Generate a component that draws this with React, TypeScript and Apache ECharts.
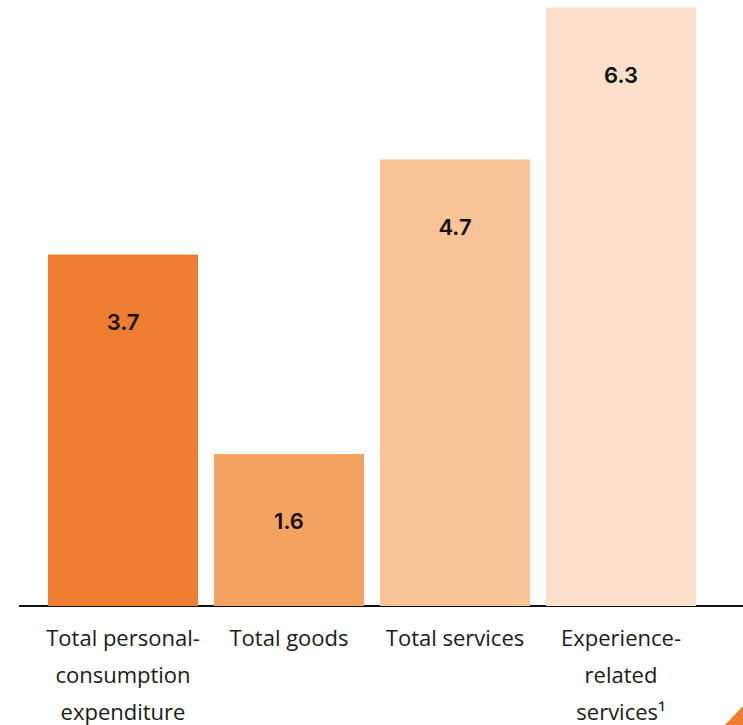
import React, { useEffect, useRef } from "react";
import * as echarts from "echarts";

const categories = [
  "Total personal-\nconsumption\nexpenditure",
  "Total goods",
  "Total services",
  "Experience-\nrelated\nservices¹",
];
const values = [3.7, 1.6, 4.7, 6.3];
const barColors = ["#EF7D31", "#F4A262", "#F8C397", "#FCE0CB"];

export default function App() {
  const ref = useRef<HTMLDivElement>(null);
  useEffect(() => {
    if (!ref.current) return;
    const chart = echarts.init(ref.current, null, { renderer: "svg" });
    chart.setOption({
      animation: false,
      grid: { left: 40, right: 39, top: 0, bottom: 119, outerBoundsMode: "none", containLabel: false },
      xAxis: {
        type: "category",
        data: categories,
        axisLine: { show: false },
        axisTick: { show: false },
        axisLabel: {
          interval: 0,
          margin: 12,
          color: "#1a1a1a",
          fontFamily: "Open Sans",
          fontSize: 22,
          lineHeight: 37,
        },
      },
      yAxis: {
        type: "value",
        min: 0,
        max: 6.38,
        show: false,
        splitLine: { show: false },
      },
      series: [
        {
          type: "bar",
          barWidth: 150,
          data: values.map((v, i) => ({ value: v, itemStyle: { color: barColors[i] } })),
          label: {
            show: true,
            position: "insideTop",
            distance: 56,
            color: "#111",
            fontFamily: "Inter",
            fontWeight: 600,
            fontSize: 22,
            formatter: (p: any) => p.value.toFixed(1),
          },
        },
      ],
      graphic: [
        {
          type: "line",
          shape: { x1: 19, y1: 606, x2: 743, y2: 606 },
          style: { stroke: "#111", lineWidth: 2 },
        },
        {
          type: "polygon",
          shape: { points: [[725, 725], [743, 706], [743, 725]] },
          style: { fill: "#EF7D31" },
        },
      ],
    });
    return () => chart.dispose();
  }, []);
  return (
    <div
      ref={ref}
      style={{ position: "fixed", left: 0, top: 0, width: 743, height: 725, background: "#fff" }}
    />
  );
}
